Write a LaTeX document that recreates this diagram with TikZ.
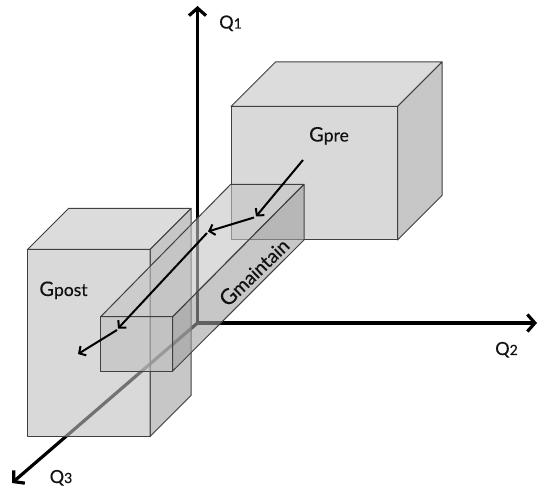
\documentclass[tikz,border=0pt]{standalone}
\usepackage{fontspec}
\setmainfont{Lato}[FakeBold=0.35]
\usetikzlibrary{arrows.meta}
\definecolor{edgec}{HTML}{404040}
\definecolor{frontc}{HTML}{BFBFBF}
\definecolor{topc}{HTML}{C4C4C4}
\definecolor{rightc}{HTML}{A1A1A1}
\definecolor{txtc}{HTML}{111111}
\newcommand\glab[2]{{\fontsize{20}{20}\selectfont #1}{\fontsize{17.5}{17.5}\selectfont #2}}
\newcommand\gbig[2]{{\fontsize{21.5}{21.5}\selectfont #1}{\fontsize{19}{19}\selectfont #2}}
\newcommand\qlab[2]{{\fontsize{18}{18}\selectfont #1}{\fontsize{14}{14}\selectfont #2}}
\tikzset{
  axis/.style={line width=3.2pt,-{Straight Barb[length=7.5pt,width=17pt]}},
  move/.style={line width=2pt,-{Straight Barb[length=5pt,width=11pt]}},
  face/.style={draw=edgec,line width=1pt,line join=round,fill opacity=0.6},
  frontface/.style={face,fill=frontc},
  topface/.style={face,fill=topc},
  rightface/.style={face,fill=rightc},
  lab/.style={inner sep=0pt,text=txtc,anchor=base}
}
\begin{document}
\begin{tikzpicture}[x=1pt,y=-1pt]
\useasboundingbox (0,0) rectangle (539,492);
% axes
\coordinate (O) at (197.5,323);
\coordinate (q1) at (197.5,6);
\coordinate (q2) at (537,323);
\coordinate (q3) at (12,483);
\draw[axis] (O) -- (q1);
\draw[axis] (O) -- (q2);
\draw[axis] (O) -- (q3);
% G_pre box
\draw[frontface] (231,106.5) -- (397.5,106.5) -- (397.5,240) -- (231,240) -- cycle;
\draw[topface] (231,106.5) -- (275.5,62) -- (442,62) -- (397.5,106.5) -- cycle;
\draw[rightface] (397.5,106.5) -- (442,62) -- (442,195.5) -- (397.5,240) -- cycle;
% G_post box
\draw[frontface] (27.5,249.5) -- (150,249.5) -- (150,436.5) -- (27.5,436.5) -- cycle;
\draw[topface] (27.5,249.5) -- (68.5,208.5) -- (191,208.5) -- (150,249.5) -- cycle;
\draw[rightface] (150,249.5) -- (191,208.5) -- (191,395.5) -- (150,436.5) -- cycle;
% G_maintain prism
\draw[frontface] (100.7,316.7) -- (172.7,316.7) -- (172.7,371) -- (100.7,371) -- cycle;
\draw[topface] (100.7,316.7) -- (230.7,184.3) -- (304,184.3) -- (172.7,316.7) -- cycle;
\draw[rightface] (172.7,316.7) -- (304,184.3) -- (304,240) -- (172.7,371) -- cycle;
% trajectory
\coordinate (p1) at (303,160);
\coordinate (p2) at (256,216.5);
\coordinate (p2s) at (254,217.5);
\coordinate (p3) at (208,231.5);
\coordinate (p3s) at (207,233);
\coordinate (p4) at (118,328.5);
\coordinate (p4s) at (117,330);
\coordinate (p5) at (78,354);
\draw[move] (p1) -- (p2);
\draw[move] (p2s) -- (p3);
\draw[move] (p3s) -- (p4);
\draw[move] (p4s) -- (p5);
% labels
\node[lab] (lq1) at (230.5,28.5) {\qlab{Q}{1}};
\node[lab] (lq2) at (506.5,355) {\qlab{Q}{2}};
\node[lab] (lq3) at (61,483) {\qlab{Q}{3}};
\node[lab] (lpre) at (329,141.5) {\glab{G}{pre}};
\node[lab] (lpost) at (63.5,296) {\glab{G}{post}};
\node[inner sep=0pt,text=txtc,rotate=44] (lmain) at (254,272) {\gbig{G}{maintain}};
\end{tikzpicture}
\end{document}
